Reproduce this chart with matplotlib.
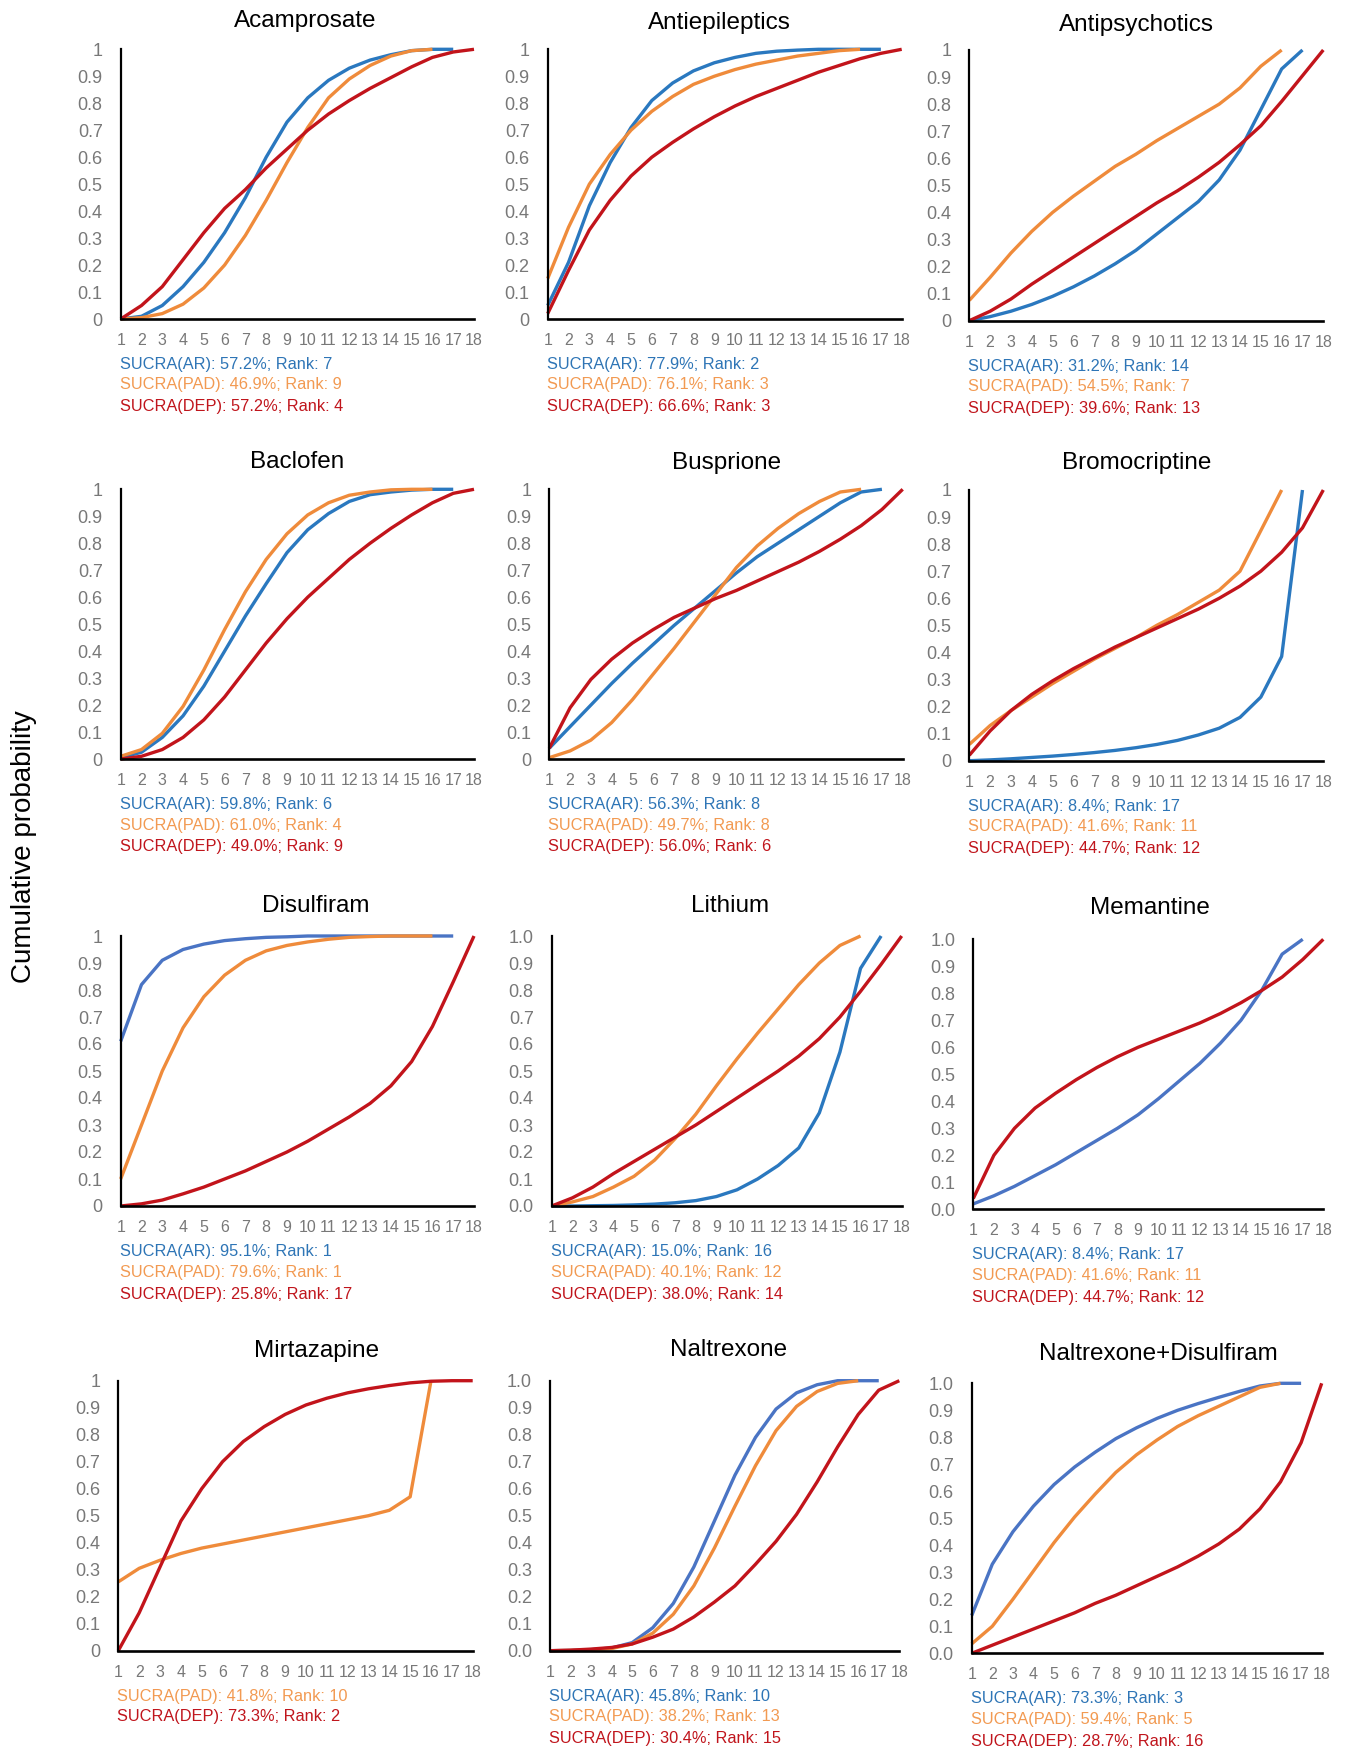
import matplotlib
matplotlib.use("Agg")
import matplotlib.pyplot as plt

plt.rcParams["font.family"] = ["Liberation Sans", "DejaVu Sans"]

RANKS = list(range(1, 19))

DRUGS = [
    "Acamprosate", "Antiepileptics", "Antipsychotics",
    "Baclofen", "Busprione", "Bromocriptine",
    "Disulfiram", "Lithium", "Memantine",
    "Mirtazapine", "Naltrexone", "Naltrexone+Disulfiram",
]

# cumulative ranking probabilities (rank 1 .. n) for alcohol relapse (AR)
CUM_AR = {
    "Acamprosate": [0, 0.01, 0.05, 0.12, 0.21, 0.32, 0.45, 0.60, 0.73, 0.82, 0.885, 0.93, 0.96, 0.98, 0.995, 1.0, 1.0],
    "Antiepileptics": [0.05, 0.21, 0.42, 0.58, 0.71, 0.81, 0.875, 0.92, 0.95, 0.97, 0.985, 0.993, 0.997, 1.0, 1.0, 1.0, 1.0],
    "Antipsychotics": [0, 0.015, 0.035, 0.06, 0.09, 0.125, 0.165, 0.21, 0.26, 0.32, 0.38, 0.44, 0.52, 0.63, 0.78, 0.93, 1.0],
    "Baclofen": [0.005, 0.025, 0.08, 0.16, 0.27, 0.40, 0.53, 0.65, 0.765, 0.85, 0.91, 0.955, 0.98, 0.99, 0.997, 1.0, 1.0],
    "Busprione": [0.04, 0.12, 0.20, 0.28, 0.355, 0.425, 0.495, 0.56, 0.625, 0.69, 0.75, 0.80, 0.85, 0.90, 0.95, 0.99, 1.0],
    "Bromocriptine": [0, 0.003, 0.007, 0.012, 0.017, 0.023, 0.03, 0.038, 0.048, 0.06, 0.075, 0.095, 0.12, 0.16, 0.235, 0.385, 1.0],
    "Disulfiram": [0.61, 0.82, 0.91, 0.95, 0.97, 0.983, 0.99, 0.995, 0.997, 1.0, 1.0, 1.0, 1.0, 1.0, 1.0, 1.0, 1.0],
    "Lithium": [0, 0, 0.001, 0.002, 0.004, 0.007, 0.012, 0.02, 0.035, 0.06, 0.10, 0.15, 0.215, 0.345, 0.57, 0.88, 1.0],
    "Memantine": [0.02, 0.05, 0.085, 0.125, 0.165, 0.21, 0.255, 0.30, 0.35, 0.41, 0.475, 0.54, 0.615, 0.70, 0.81, 0.945, 1.0],
    "Naltrexone": [0, 0.001, 0.004, 0.01, 0.03, 0.085, 0.175, 0.31, 0.48, 0.65, 0.79, 0.895, 0.955, 0.985, 1.0, 1.0, 1.0],
    "Naltrexone+Disulfiram": [0.14, 0.33, 0.45, 0.545, 0.625, 0.69, 0.745, 0.795, 0.835, 0.87, 0.90, 0.925, 0.948, 0.97, 0.99, 1.0, 1.0],
}

# percent abstinent days (PAD)
CUM_PAD = {
    "Acamprosate": [0, 0.005, 0.02, 0.055, 0.115, 0.20, 0.31, 0.44, 0.58, 0.71, 0.82, 0.89, 0.94, 0.975, 0.995, 1.0],
    "Antiepileptics": [0.15, 0.34, 0.50, 0.61, 0.70, 0.77, 0.825, 0.87, 0.90, 0.925, 0.945, 0.96, 0.975, 0.985, 0.995, 1.0],
    "Antipsychotics": [0.075, 0.16, 0.25, 0.33, 0.40, 0.46, 0.515, 0.57, 0.615, 0.665, 0.71, 0.755, 0.80, 0.86, 0.94, 1.0],
    "Baclofen": [0.01, 0.035, 0.095, 0.195, 0.33, 0.48, 0.62, 0.74, 0.835, 0.905, 0.95, 0.978, 0.99, 0.998, 1.0, 1.0],
    "Busprione": [0.005, 0.03, 0.07, 0.135, 0.22, 0.315, 0.41, 0.51, 0.61, 0.71, 0.79, 0.855, 0.91, 0.955, 0.99, 1.0],
    "Bromocriptine": [0.06, 0.13, 0.185, 0.235, 0.285, 0.33, 0.375, 0.415, 0.455, 0.50, 0.54, 0.585, 0.63, 0.70, 0.85, 1.0],
    "Disulfiram": [0.10, 0.30, 0.50, 0.66, 0.775, 0.855, 0.91, 0.945, 0.965, 0.978, 0.988, 0.995, 0.998, 1.0, 1.0, 1.0],
    "Lithium": [0, 0.015, 0.035, 0.07, 0.11, 0.17, 0.25, 0.34, 0.445, 0.545, 0.64, 0.73, 0.82, 0.90, 0.965, 1.0],
    "Mirtazapine": [0.255, 0.305, 0.335, 0.36, 0.38, 0.395, 0.41, 0.425, 0.44, 0.455, 0.47, 0.485, 0.50, 0.52, 0.57, 1.0],
    "Naltrexone": [0, 0.001, 0.003, 0.008, 0.025, 0.065, 0.135, 0.24, 0.38, 0.535, 0.685, 0.815, 0.905, 0.96, 0.99, 1.0],
    "Naltrexone+Disulfiram": [0.035, 0.10, 0.20, 0.305, 0.41, 0.505, 0.59, 0.67, 0.735, 0.79, 0.84, 0.88, 0.915, 0.95, 0.985, 1.0],
}

# depression (DEP)
CUM_DEP = {
    "Acamprosate": [0, 0.05, 0.12, 0.22, 0.32, 0.41, 0.48, 0.56, 0.63, 0.70, 0.76, 0.81, 0.855, 0.895, 0.935, 0.97, 0.99, 1.0],
    "Antiepileptics": [0.02, 0.18, 0.33, 0.44, 0.53, 0.60, 0.655, 0.705, 0.75, 0.79, 0.825, 0.855, 0.885, 0.915, 0.94, 0.965, 0.985, 1.0],
    "Antipsychotics": [0, 0.035, 0.08, 0.135, 0.185, 0.235, 0.285, 0.335, 0.385, 0.435, 0.48, 0.53, 0.585, 0.65, 0.72, 0.81, 0.905, 1.0],
    "Baclofen": [0, 0.01, 0.035, 0.08, 0.145, 0.23, 0.33, 0.43, 0.52, 0.60, 0.67, 0.74, 0.80, 0.855, 0.905, 0.95, 0.985, 1.0],
    "Busprione": [0.04, 0.19, 0.295, 0.37, 0.43, 0.48, 0.525, 0.56, 0.595, 0.625, 0.66, 0.695, 0.73, 0.77, 0.815, 0.865, 0.925, 1.0],
    "Bromocriptine": [0.02, 0.11, 0.185, 0.245, 0.295, 0.34, 0.38, 0.42, 0.455, 0.49, 0.525, 0.56, 0.60, 0.645, 0.70, 0.77, 0.86, 1.0],
    "Disulfiram": [0, 0.008, 0.022, 0.045, 0.07, 0.10, 0.13, 0.165, 0.20, 0.24, 0.285, 0.33, 0.38, 0.445, 0.535, 0.665, 0.83, 1.0],
    "Lithium": [0, 0.03, 0.07, 0.12, 0.165, 0.21, 0.255, 0.30, 0.35, 0.40, 0.45, 0.50, 0.555, 0.62, 0.70, 0.795, 0.895, 1.0],
    "Memantine": [0.04, 0.20, 0.30, 0.375, 0.43, 0.48, 0.525, 0.565, 0.60, 0.63, 0.66, 0.69, 0.725, 0.765, 0.81, 0.86, 0.925, 1.0],
    "Mirtazapine": [0, 0.14, 0.31, 0.48, 0.60, 0.70, 0.775, 0.83, 0.875, 0.91, 0.935, 0.955, 0.97, 0.982, 0.992, 0.998, 1.0, 1.0],
    "Naltrexone": [0, 0.002, 0.006, 0.012, 0.025, 0.05, 0.08, 0.125, 0.18, 0.24, 0.32, 0.405, 0.505, 0.625, 0.755, 0.875, 0.965, 1.0],
    "Naltrexone+Disulfiram": [0, 0.03, 0.06, 0.09, 0.12, 0.15, 0.185, 0.215, 0.25, 0.285, 0.32, 0.36, 0.405, 0.46, 0.535, 0.635, 0.78, 1.0],
}

# SUCRA (%) and rank per outcome
SUCRA_AR = {"Acamprosate": (57.2, 7), "Antiepileptics": (77.9, 2), "Antipsychotics": (31.2, 14),
            "Baclofen": (59.8, 6), "Busprione": (56.3, 8), "Bromocriptine": (8.4, 17),
            "Disulfiram": (95.1, 1), "Lithium": (15.0, 16), "Memantine": (8.4, 17),
            "Naltrexone": (45.8, 10), "Naltrexone+Disulfiram": (73.3, 3)}
SUCRA_PAD = {"Acamprosate": (46.9, 9), "Antiepileptics": (76.1, 3), "Antipsychotics": (54.5, 7),
             "Baclofen": (61.0, 4), "Busprione": (49.7, 8), "Bromocriptine": (41.6, 11),
             "Disulfiram": (79.6, 1), "Lithium": (40.1, 12), "Memantine": (41.6, 11),
             "Mirtazapine": (41.8, 10), "Naltrexone": (38.2, 13), "Naltrexone+Disulfiram": (59.4, 5)}
SUCRA_DEP = {"Acamprosate": (57.2, 4), "Antiepileptics": (66.6, 3), "Antipsychotics": (39.6, 13),
             "Baclofen": (49.0, 9), "Busprione": (56.0, 6), "Bromocriptine": (44.7, 12),
             "Disulfiram": (25.8, 17), "Lithium": (38.0, 14), "Memantine": (44.7, 12),
             "Mirtazapine": (73.3, 2), "Naltrexone": (30.4, 15), "Naltrexone+Disulfiram": (28.7, 16)}

ONE_DECIMAL = {"Lithium", "Memantine", "Naltrexone", "Naltrexone+Disulfiram"}
SOFT_BLUE = {"Disulfiram", "Memantine", "Naltrexone", "Naltrexone+Disulfiram"}

W, H = 1349, 1748

# axes box in pixels (left, right, top, bottom) and title centre
LAYOUT = [
    ((120.7, 474.0, 49.3, 319.0), (305, 21.5)),
    ((547.7, 901.7, 49.3, 319.0), (719, 22.5)),
    ((969.3, 1323.3, 50.0, 320.7), (1136, 24.5)),
    ((120.7, 474.0, 489.3, 759.0), (297, 461.5)),
    ((549.3, 902.7, 489.3, 759.0), (727, 463.5)),
    ((969.3, 1323.3, 490.0, 760.7), (1137, 463.5)),
    ((120.7, 474.0, 936.0, 1206.0), (316, 905.5)),
    ((551.7, 901.7, 936.0, 1206.0), (730, 905.5)),
    ((973.3, 1323.3, 939.3, 1209.3), (1150, 907.5)),
    ((118.3, 472.7, 1380.7, 1650.7), (317, 1350.5)),
    ((550.0, 899.3, 1380.7, 1650.7), (729, 1350.5)),
    ((971.7, 1321.7, 1383.3, 1653.3), (1158, 1354.5)),
]

BLUE = "#2A78BF"
BLUE2 = "#4A74C4"
ORANGE = "#EF8B3B"
RED = "#C2141B"
TXT_BLUE = "#2E75B6"
TXT_ORANGE = "#F29A52"
TXT_RED = "#C0151C"
GREY = "#787878"


def main() -> None:
    fig = plt.figure(figsize=(W / 100, H / 100), dpi=100)
    for drug, ((x0, x1, y0, y1), (tx, ty)) in zip(DRUGS, LAYOUT):
        ax = fig.add_axes([x0 / W, 1 - y1 / H, (x1 - x0) / W, (y1 - y0) / H])
        blue = BLUE2 if drug in SOFT_BLUE else BLUE
        for series, color in ((CUM_AR, blue), (CUM_PAD, ORANGE), (CUM_DEP, RED)):
            if drug in series:
                vals = series[drug]
                ax.plot(RANKS[:len(vals)], vals, color=color, lw=2.4, clip_on=False,
                        solid_joinstyle="round", solid_capstyle="butt")
        ax.set_xlim(1, 18)
        ax.set_ylim(0, 1)
        ax.set_xticks(RANKS)
        ax.set_xticklabels([str(r) for r in RANKS])
        yt = [i / 10 for i in range(11)]
        ax.set_yticks(yt)
        if drug in ONE_DECIMAL:
            ax.set_yticklabels([f"{v:.1f}" for v in yt])
        else:
            ax.set_yticklabels(["0"] + [f"{v:.1f}" for v in yt[1:-1]] + ["1"])
        ax.tick_params(axis="x", length=0, pad=10, labelsize=11.5, labelcolor=GREY)
        ax.tick_params(axis="y", length=0, pad=13, labelsize=13, labelcolor=GREY)
        for s in ("top", "right"):
            ax.spines[s].set_visible(False)
        ax.spines["left"].set_linewidth(1.6)
        ax.spines["bottom"].set_linewidth(1.9)
        ax.patch.set_alpha(0)

        fig.text(tx / W, 1 - ty / H, drug, ha="center", va="center", fontsize=17.5)

        lines = []
        if drug in SUCRA_AR:
            lines.append((f"SUCRA(AR): {SUCRA_AR[drug][0]:.1f}%; Rank: {SUCRA_AR[drug][1]}", TXT_BLUE))
        lines.append((f"SUCRA(PAD): {SUCRA_PAD[drug][0]:.1f}%; Rank: {SUCRA_PAD[drug][1]}", TXT_ORANGE))
        lines.append((f"SUCRA(DEP): {SUCRA_DEP[drug][0]:.1f}%; Rank: {SUCRA_DEP[drug][1]}", TXT_RED))
        for off, (txt, c) in zip((45.5, 66, 88), lines):
            fig.text((x0 - 1) / W, 1 - (y1 + off) / H, txt, ha="left", va="center",
                     fontsize=11.8, color=c)

    fig.text(24.5 / W, 1 - 847 / H, "Cumulative probability", rotation=90,
             ha="center", va="center", fontsize=20)
    fig.savefig("out.png", dpi=100, facecolor="white")


if __name__ == "__main__":
    main()
